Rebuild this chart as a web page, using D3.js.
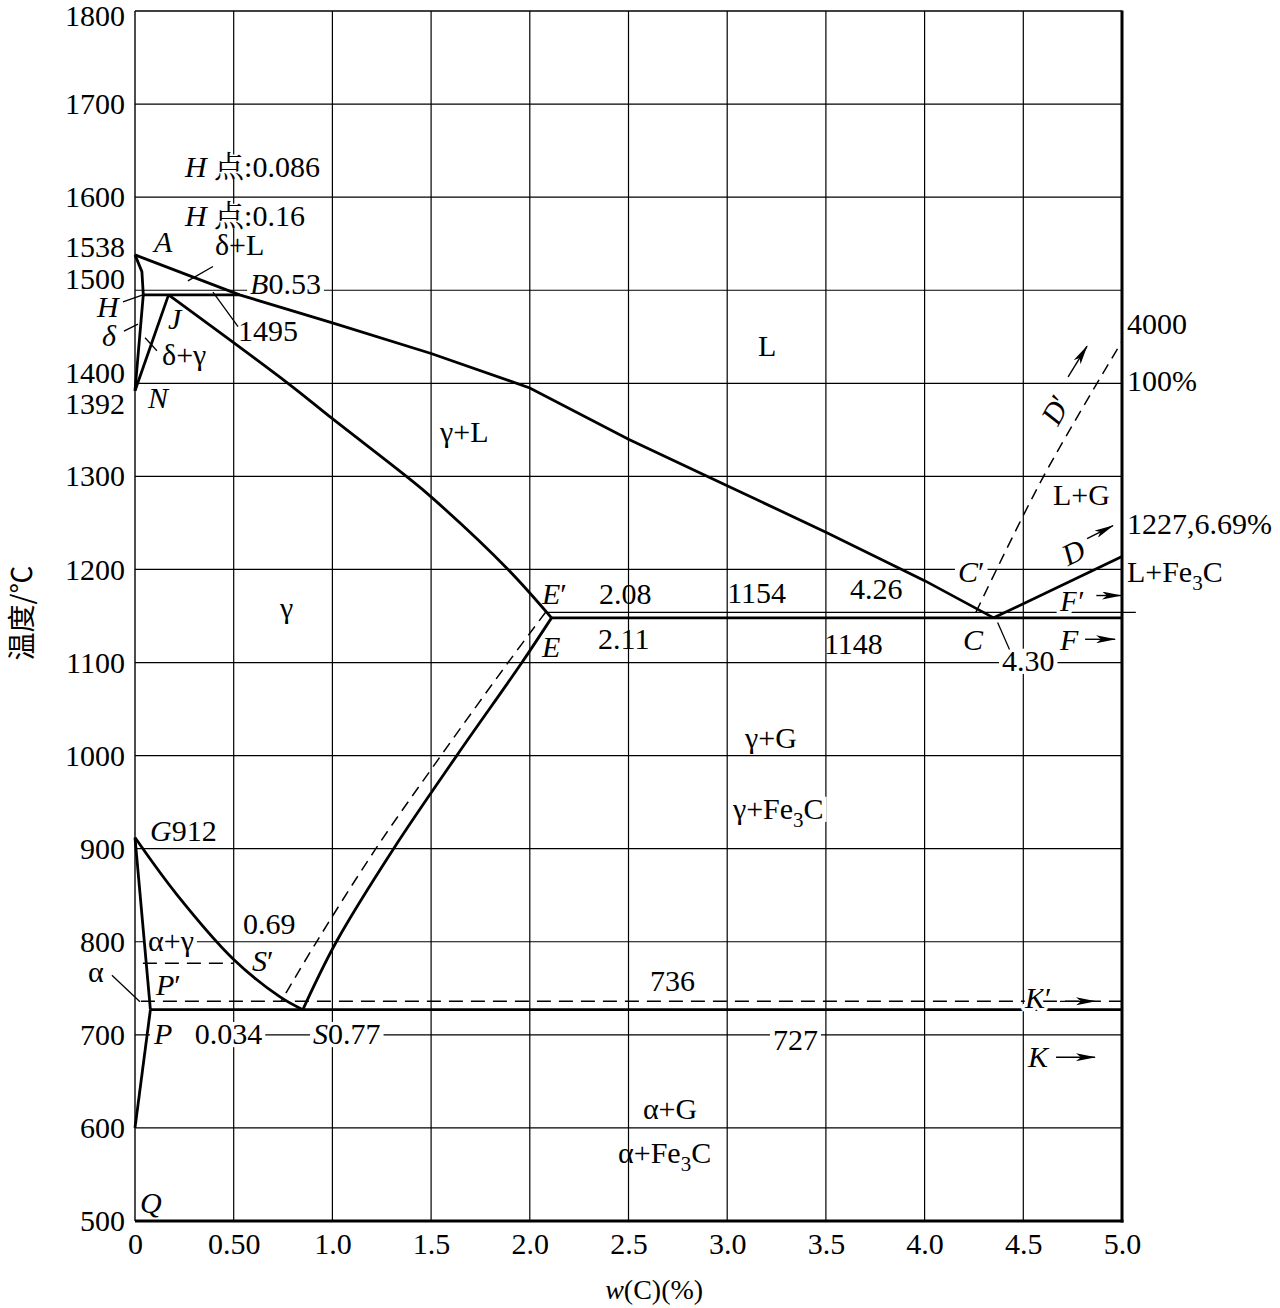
<!DOCTYPE html>
<html><head><meta charset="utf-8">
<script src="https://cdn.jsdelivr.net/npm/d3@7"></script>
<style>
body{margin:0;background:#fff;}
svg{display:block;background:#fff;}
</style></head><body>
<svg id="chart" width="1280" height="1308"></svg>
<script>
// ---------------- DATA (w(C) %, temperature °C) ----------------
const xTickValues = [0, 0.5, 1, 1.5, 2, 2.5, 3, 3.5, 4, 4.5, 5];
const xTickLabels = ["0", "0.50", "1.0", "1.5", "2.0", "2.5", "3.0", "3.5", "4.0", "4.5", "5.0"];
const yTickValues = [1800, 1700, 1600, 1538, 1500, 1400, 1392, 1300, 1200, 1100, 1000, 900, 800, 700, 600, 500];
const xGridValues = [0.5, 1, 1.5, 2, 2.5, 3, 3.5, 4, 4.5];
const yGridValues = [600, 700, 800, 900, 1000, 1100, 1200, 1300, 1400, 1500, 1600, 1700];

// solid phase boundaries
const liquidusABC = [[0,1538],[0.53,1495],[1.0,1465],[1.5,1432],[2.0,1395],[2.5,1340],[3.0,1290],[3.5,1240],[4.0,1188],[4.35,1148]];
const lineAH = [[0,1538],[0.035,1520],[0.042,1495]];
const lineHJB = [[0.042,1495],[0.53,1495]];
const lineHN = [[0.042,1495],[0,1392]];
const lineJN = [[0.17,1495],[0,1392]];
const lineJE = [[0.17,1495],[0.775,1400],[1.0,1362],[1.375,1300],[1.5,1278],[1.89,1200],[2.11,1148]];
const lineECF = [[2.11,1148],[5.0,1148]];
const lineCD = [[4.35,1148],[5.0,1214]];
const lineES = [[2.11,1148],[1.96,1100],[1.63,1000],[1.31,900],[1.02,800],[0.85,727]];
const lineGS = [[0,912],[0.211,851],[0.5,781],[0.733,741],[0.85,727]];
const lineGP = [[0,912],[0.078,727]];
const linePQ = [[0.078,727],[0,600]];
const linePSK = [[0.078,727],[5.0,727]];
// thin stable-system eutectic line
const lineEpCpFp = [[2.08,1154],[5.07,1154]];
// dashed (Fe-G stable system)
const dashEpSp = [[2.08,1154],[1.89,1100],[1.55,1000],[1.22,900],[0.92,800],[0.74,736]];
const dashCpDp = [[4.26,1154],[4.60,1299],[5.0,1445]];
const dashPpSpKp = [[0.03,736],[5.0,736]];
const dashGSp = [[0.04,777],[0.5,777]];

// annotations (anchor = left end of baseline)
const annotations = [
 {text:"*H* 点:0.086", x:0.253, t:1622},
 {text:"*H* 点:0.16", x:0.253, t:1569},
 {text:"*A*", x:0.096, t:1541},
 {text:"δ+L", x:0.405, t:1538},
 {text:"*B*0.53", x:0.583, t:1496},
 {text:"1495", x:0.522, t:1445},
 {text:"*H*", x:-0.193, t:1471},
 {text:"*δ*", x:-0.167, t:1440},
 {text:"*J*", x:0.167, t:1458},
 {text:"δ+γ", x:0.137, t:1420},
 {text:"*N*", x:0.066, t:1373},
 {text:"L", x:3.156, t:1429},
 {text:"γ+L", x:1.545, t:1337},
 {text:"γ", x:0.735, t:1148},
 {text:"*E*′", x:2.062, t:1163},
 {text:"2.08", x:2.351, t:1163},
 {text:"1154", x:3.0, t:1164},
 {text:"4.26", x:3.622, t:1168},
 {text:"*E*", x:2.062, t:1106},
 {text:"2.11", x:2.346, t:1115},
 {text:"1148", x:3.49, t:1109},
 {text:"*C*′", x:4.169, t:1186},
 {text:"*C*", x:4.195, t:1114},
 {text:"4.30", x:4.392, t:1091},
 {text:"*F*′", x:4.686, t:1155},
 {text:"*F*", x:4.686, t:1114},
 {text:"L+Fe_3C", x:5.025, t:1186},
 {text:"1227,6.69%", x:5.025, t:1238},
 {text:"4000", x:5.025, t:1453},
 {text:"100%", x:5.025, t:1392},
 {text:"L+G", x:4.65, t:1269},
 {text:"γ+G", x:3.09, t:1008},
 {text:"γ+Fe_3C", x:3.029, t:932},
 {text:"736", x:2.609, t:747},
 {text:"727", x:3.232, t:684},
 {text:"α+G", x:2.573, t:610},
 {text:"α+Fe_3C", x:2.447, t:562},
 {text:"*G*912", x:0.076, t:908},
 {text:"0.69", x:0.547, t:808},
 {text:"α+γ", x:0.066, t:790},
 {text:"*S*′", x:0.593, t:769},
 {text:"α", x:-0.238, t:757},
 {text:"*P*′", x:0.106, t:743},
 {text:"*P*\u00a0\u00a0\u00a00.034", x:0.096, t:690},
 {text:"*S*0.77", x:0.902, t:690},
 {text:"*K*′", x:4.509, t:729},
 {text:"*K*", x:4.524, t:665},
 {text:"*Q*", x:0.025, t:509}
];
// labels set along a sloped line (anchor = centre)
const slopedLabels = [
 {text:"*D*", x:4.752, t:1219, along:"CD"},
 {text:"*D*′", x:4.661, t:1372, along:"CpDp"}
];
const leaders = [
 [[0.268,1510],[0.395,1525.5]],
 [[0.395,1498],[0.522,1461]],
 [[-0.061,1487.5],[0.04,1495]],
 [[-0.056,1456],[0.015,1463.5]],
 [[0.051,1449],[0.111,1435]],
 [[4.37,1143],[4.43,1114]],
 [[-0.117,764],[0.025,735.5]]
];
const arrows = [
 [[4.87,1172],[4.995,1172]],
 [[4.813,1125],[4.965,1125]],
 [[4.823,1233],[4.954,1247]],
 [[4.727,1407],[4.823,1440]],
 [[4.686,736],[4.863,736]],
 [[4.666,676],[4.863,676]]
];
const xTitle = "*w*(C)(%)";
const yTitle = "温度/℃";

// ---------------- RENDER ----------------
const SERIF = '"Liberation Serif","Times New Roman","Noto Serif CJK SC","Noto Sans CJK SC",serif';
const FS = 30;
const svg = d3.select("#chart");
const x = d3.scaleLinear().domain([0, 5]).range([135, 1122]);
const y = d3.scaleLinear().domain([500, 1800]).range([1221, 11]);

const defs = svg.append("defs");
defs.append("marker").attr("id","ah").attr("viewBox","0 0 20 8")
  .attr("refX",19).attr("refY",4).attr("markerWidth",20).attr("markerHeight",8)
  .attr("markerUnits","userSpaceOnUse").attr("orient","auto")
  .append("path").attr("d","M0,0 L20,4 L0,8 L5,4 Z").attr("fill","#000");

// grid
const g = svg.append("g");
g.selectAll("line.vg").data(xGridValues).join("line")
  .attr("x1", d=>x(d)).attr("x2", d=>x(d)).attr("y1", y(1800)).attr("y2", y(500))
  .attr("stroke","#000").attr("stroke-width",1.2);
g.selectAll("line.hg").data(yGridValues).join("line")
  .attr("x1", x(0)).attr("x2", x(5)).attr("y1", d=>y(d)).attr("y2", d=>y(d))
  .attr("stroke","#000").attr("stroke-width",1.2);
// label masks over the grid (filled later)
const maskG = svg.append("g");
// frame
const fr = svg.append("g").attr("stroke","#000");
fr.append("line").attr("x1",x(0)).attr("x2",x(5)).attr("y1",y(1800)).attr("y2",y(1800)).attr("stroke-width",1.4);
fr.append("line").attr("x1",x(0)).attr("x2",x(0)).attr("y1",y(1800)).attr("y2",y(500)).attr("stroke-width",1.4);
fr.append("line").attr("x1",x(5)).attr("x2",x(5)).attr("y1",y(1800)-0.5).attr("y2",y(500)+1.5).attr("stroke-width",3);
fr.append("line").attr("x1",x(0)).attr("x2",x(5)+1.5).attr("y1",y(500)).attr("y2",y(500)).attr("stroke-width",3);

// axes
const xAxis = d3.axisBottom(x).tickValues(xTickValues).tickFormat((d,i)=>xTickLabels[i]).tickSize(0).tickPadding(12);
const gx = svg.append("g").attr("transform",`translate(0,${y(500)})`).call(xAxis);
gx.select(".domain").remove();
gx.attr("font-family",SERIF).attr("font-size",FS);
gx.selectAll("text").attr("fill","#000");

const yNudge = {1800:5, 1538:-8, 1500:-11, 1400:-10, 1392:13};
const yAxis = d3.axisLeft(y).tickValues(yTickValues).tickFormat(d3.format("d")).tickSize(0).tickPadding(10);
const gy = svg.append("g").attr("transform",`translate(${x(0)},0)`).call(yAxis);
gy.select(".domain").remove();
gy.attr("font-family",SERIF).attr("font-size",FS);
gy.selectAll(".tick text").attr("fill","#000").attr("y", d=>yNudge[d]||0);

// lines
const lineGen = d3.line().x(d=>x(d[0])).y(d=>y(d[1]));
const curveGen = d3.line().x(d=>x(d[0])).y(d=>y(d[1])).curve(d3.curveCatmullRom.alpha(0.5));
const pl = svg.append("g").attr("fill","none").attr("stroke","#000");
const thick = 2.8;
[liquidusABC, lineAH, lineHJB, lineHN, lineJN, lineECF, lineCD, lineGP, linePQ, linePSK].forEach(d=>{
  pl.append("path").attr("d", lineGen(d)).attr("stroke-width", thick).attr("stroke-linejoin","miter");
});
[lineJE, lineES, lineGS].forEach(d=>{
  pl.append("path").attr("d", curveGen(d)).attr("stroke-width", thick);
});
pl.append("path").attr("d", lineGen(lineEpCpFp)).attr("stroke-width",1.3);
[dashEpSp, dashCpDp].forEach(d=>{
  pl.append("path").attr("d", curveGen(d)).attr("stroke-width",1.5).attr("stroke-dasharray","11 7");
});
[dashPpSpKp, dashGSp].forEach(d=>{
  pl.append("path").attr("d", lineGen(d)).attr("stroke-width",1.5).attr("stroke-dasharray","14 8");
});
leaders.forEach(d=>{
  pl.append("path").attr("d", lineGen(d)).attr("stroke-width",1.3);
});

// text helper
function addRich(sel, str){
  let italic=false, buf='', segs=[];
  const flush=()=>{ if(buf){segs.push({s:buf,italic,sub:false}); buf='';} };
  for(let i=0;i<str.length;i++){
    const c=str[i];
    if(c==='*'){flush(); italic=!italic; continue;}
    if(c==='_'){flush(); segs.push({s:str[i+1],italic,sub:true}); i++; continue;}
    buf+=c;
  }
  flush();
  let prevSub=false;
  segs.forEach(sg=>{
    const ts=sel.append("tspan").text(sg.s);
    if(sg.italic) ts.attr("font-style","italic");
    if(sg.sub){ ts.attr("font-size","0.7em").attr("dy",8); prevSub=true; }
    else if(prevSub){ ts.attr("dy",-8); prevSub=false; }
  });
}
// labels whose box hides the grid behind them, and labels with a glyph halo
const maskSet = new Set(["*H* 点:0.086","*H* 点:0.16","*B*0.53","*C*′","4.30","727",
  "*P*\u00a0\u00a0\u00a00.034","*S*0.77","α+γ","γ+Fe_3C"]);
const haloSet = new Set(["*K*′","*F*′"]);
const tl = svg.append("g").attr("font-family",SERIF).attr("font-size",FS).attr("fill","#000");
annotations.forEach(a=>{
  const t = tl.append("text").attr("x", x(a.x)).attr("y", y(a.t)).style("white-space","pre");
  addRich(t, a.text);
  if(haloSet.has(a.text)){
    t.attr("stroke","#fff").attr("stroke-width",7).attr("stroke-linejoin","round").attr("paint-order","stroke");
  }
  if(maskSet.has(a.text)){
    const bb = t.node().getBBox();
    const base = y(a.t);
    maskG.append("rect").attr("x", bb.x-3).attr("width", bb.width+6)
      .attr("y", base-0.74*FS).attr("height", 0.84*FS).attr("fill","#fff");
  }
});
function angleOf(seg){
  const p0=[x(seg[0][0]),y(seg[0][1])], p1=[x(seg[seg.length-1][0]),y(seg[seg.length-1][1])];
  return Math.atan2(p1[1]-p0[1], p1[0]-p0[0])*180/Math.PI;
}
const alongMap = {CD: lineCD, CpDp: dashCpDp};
slopedLabels.forEach(a=>{
  const ang = angleOf(alongMap[a.along]);
  const t = tl.append("text").attr("text-anchor","middle").attr("dominant-baseline","central")
    .attr("transform",`translate(${x(a.x)},${y(a.t)}) rotate(${ang})`);
  addRich(t, a.text);
});
arrows.forEach(d=>{
  svg.append("path").attr("d", lineGen(d)).attr("fill","none").attr("stroke","#000")
    .attr("stroke-width",1.4).attr("marker-end","url(#ah)");
});

// titles
const xt = svg.append("text").attr("x", x(2.63)).attr("y", 1299).attr("text-anchor","middle")
  .attr("font-family",SERIF).attr("font-size",28).attr("fill","#000");
addRich(xt, xTitle);
svg.append("text").attr("transform","translate(32,613) rotate(-90)").attr("text-anchor","middle")
  .attr("font-family",'"Noto Sans CJK SC","Noto Sans",sans-serif').attr("font-size",28).attr("fill","#000")
  .text(yTitle);
</script>
</body></html>
